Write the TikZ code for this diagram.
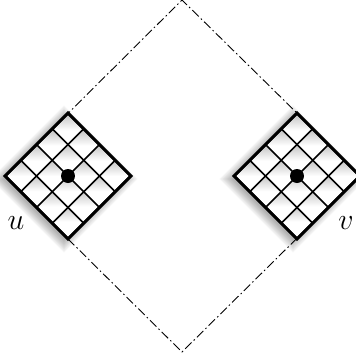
\RequirePackage{fix-cm}
\documentclass[tikz,border=0pt]{standalone}
\usetikzlibrary{calc}
\tikzset{
  gridbox/.style={draw, line width=3pt, fill=white, rectangle, rotate=45,
    minimum size=86pt, inner sep=0pt},
  shadowlayer/.style={rectangle, rotate=45, inner sep=0pt, fill=black, fill opacity=0.035, draw=none},
  cellshade/.style={top color=gray!45, bottom color=white, middle color=white},
  gridline/.style={line width=1.7pt},
  bigdot/.style={circle, fill=black, minimum size=14pt, inner sep=0pt},
  dashdot/.style={line width=0.9pt, dash pattern=on 9pt off 3pt on 1.5pt off 3pt},
  lab/.style={font=\fontsize{30}{30}\selectfont, inner sep=0pt}
}
\begin{document}
\begin{tikzpicture}[x=1pt,y=-1pt]
\useasboundingbox (0,0) rectangle (356,362);
\coordinate (T) at (182,0);
\coordinate (B) at (182,352);
\coordinate (cu) at (68,176);
\coordinate (cv) at (297,176);
% soft shadows
\foreach \c in {cu,cv}{
  \foreach \r in {0,2,...,18}{
    \node[shadowlayer, minimum size=86pt+\r pt] at ($(\c)+(-4,3)$) {};
  }
}
\node[gridbox] (U) at (cu) {};
\node[gridbox] (V) at (cv) {};
\draw[dashdot] (U.north west) -- (T) -- (V.north east);
\draw[dashdot] (U.south west) -- (B) -- (V.south east);
% shaded cells
\foreach \c/\cx in {cu/68,cv/297}{
  \foreach \i in {0,...,3}{
    \foreach \j in {0,...,3}{
      \pgfmathsetmacro{\x}{\cx+(\i-\j)*15.2}
      \pgfmathsetmacro{\y}{176+(\i+\j-3)*15.2}
      \shade[cellshade] (\x,\y-15.2) -- (\x+15.2,\y) -- (\x,\y+15.2) -- (\x-15.2,\y) -- cycle;
    }
  }
}
\foreach \b in {U,V}{
  \foreach \t in {0.25,0.5,0.75}{
    \draw[gridline] ($(\b.north west)!\t!(\b.north east)$) -- ($(\b.south west)!\t!(\b.south east)$);
    \draw[gridline] ($(\b.north west)!\t!(\b.south west)$) -- ($(\b.north east)!\t!(\b.south east)$);
  }
  \draw[line width=3pt, line join=miter] (\b.north west) -- (\b.north east) -- (\b.south east) -- (\b.south west) -- cycle;
}
\node[bigdot] (du) at (U) {};
\node[bigdot] (dv) at (V) {};
\node[lab] (lu) at (16,223) {$u$};
\node[lab] (lv) at (346,223) {$v$};
\end{tikzpicture}
\end{document}
